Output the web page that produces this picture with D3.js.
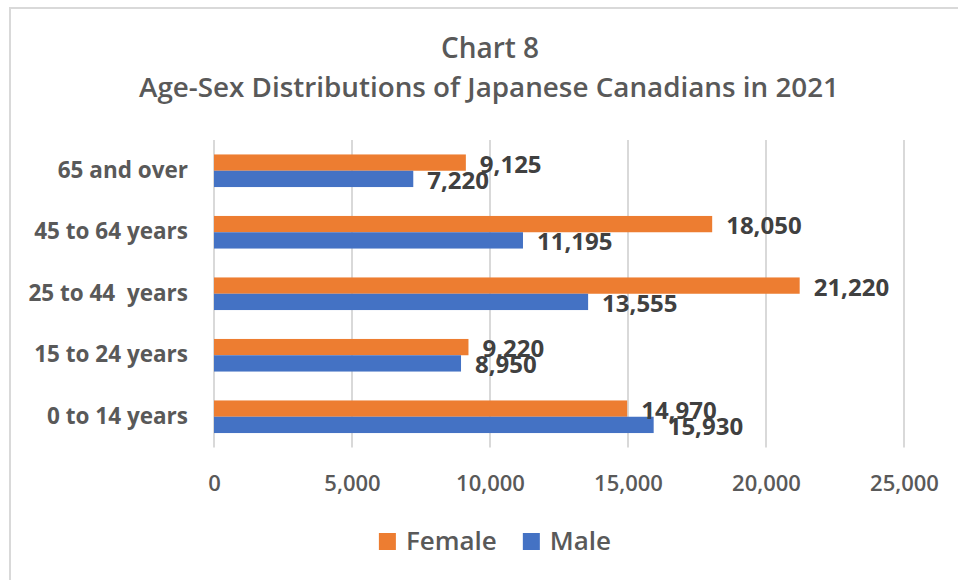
<!DOCTYPE html>
<html>
<head>
<meta charset="utf-8">
<script src="https://cdn.jsdelivr.net/npm/d3@7"></script>
<style>
  body { margin: 0; background: #fff; }
  svg { display: block; font-family: "Open Sans", sans-serif; }
</style>
</head>
<body>
<div id="chart"></div>
<script>
// data
const ageGroups = ["65 and over", "45 to 64 years", "25 to 44  years", "15 to 24 years", "0 to 14 years"];
const series = ["Female", "Male"];
const femaleValues = [9125, 18050, 21220, 9220, 14970];
const maleValues = [7220, 11195, 13555, 8950, 15930];
const xTicks = [0, 5000, 10000, 15000, 20000, 25000];

const width = 958, height = 580;
const plot = { left: 214, right: 904, top: 140, bottom: 447.5 };
const colors = { Female: "#ED7D31", Male: "#4472C4" };

const rows = ageGroups.map((g, i) => ({ group: g, Female: femaleValues[i], Male: maleValues[i] }));

let svg = d3.select("#chart")
  .append("svg")
    .attr("width", width)
    .attr("height", height);

// chart frame
svg.append("rect")
  .attr("x", 10)
  .attr("y", 8)
  .attr("width", 1000)
  .attr("height", 600)
  .attr("fill", "white")
  .attr("stroke", "#d9d9d9")
  .attr("stroke-width", 2);

let x = d3.scaleLinear()
  .domain([0, 25000])
  .range([plot.left, plot.right]);

let y = d3.scaleBand()
  .domain(ageGroups)
  .range([plot.top, plot.bottom])
  .paddingInner(0.47)
  .paddingOuter(0.235);

let ySub = d3.scaleBand()
  .domain(series)
  .range([0, y.bandwidth()]);

// gridlines
svg.append("g")
  .selectAll("line")
  .data(xTicks)
  .enter()
  .append("line")
    .attr("x1", d => x(d))
    .attr("x2", d => x(d))
    .attr("y1", plot.top)
    .attr("y2", plot.bottom)
    .attr("stroke", "#d9d9d9")
    .attr("stroke-width", 2);

// x axis labels
let xAxis = svg.append("g")
  .attr("transform", "translate(0," + 476 + ")")
  .call(d3.axisBottom(x).tickValues(xTicks).tickSize(0).tickPadding(0).tickFormat(d3.format(",")));
xAxis.select(".domain").remove();
xAxis.selectAll("text")
  .attr("dy", null)
  .attr("y", 15)
  .style("font-family", "Open Sans")
  .style("font-size", "22px")
  .style("font-weight", 600)
  .style("fill", "#595959");

// y axis labels
let yAxis = svg.append("g")
  .attr("transform", "translate(" + plot.left + ",0)")
  .call(d3.axisLeft(y).tickSize(0).tickPadding(26));
yAxis.select(".domain").remove();
yAxis.selectAll("text")
  .style("font-family", "Open Sans")
  .style("font-size", "22.5px")
  .style("font-weight", 700)
  .style("fill", "#595959")
  .style("white-space", "pre");

// bars
let groups = svg.append("g")
  .selectAll("g")
  .data(rows)
  .enter()
  .append("g")
    .attr("transform", d => "translate(0," + y(d.group) + ")");

groups.selectAll("rect")
  .data(d => series.map(s => ({ key: s, value: d[s] })))
  .enter()
  .append("rect")
    .attr("x", x(0))
    .attr("y", d => ySub(d.key))
    .attr("width", d => x(d.value) - x(0))
    .attr("height", ySub.bandwidth())
    .attr("fill", d => colors[d.key]);

groups.selectAll("text")
  .data(d => series.map(s => ({ key: s, value: d[s] })))
  .enter()
  .append("text")
    .attr("x", d => x(d.value) + 14)
    .attr("y", d => ySub(d.key) + ySub.bandwidth() / 2 + 10)
    .text(d => d3.format(",")(d.value))
    .style("font-family", "Open Sans")
    .style("font-size", "24px")
    .style("font-weight", 700)
    .style("fill", "#404040");

// title
svg.append("text")
  .attr("x", 490)
  .attr("y", 58)
  .attr("text-anchor", "middle")
  .text("Chart 8")
  .style("font-size", "28px")
  .style("font-weight", 600)
  .style("fill", "#595959");

svg.append("text")
  .attr("x", 489)
  .attr("y", 97)
  .attr("text-anchor", "middle")
  .text("Age-Sex Distributions of Japanese Canadians in 2021")
  .style("font-size", "27.8px")
  .style("font-weight", 600)
  .style("fill", "#595959");

// legend
let legend = svg.append("g");
let items = legend.selectAll("g")
  .data(series)
  .enter()
  .append("g");

items.append("rect")
  .attr("width", 17)
  .attr("height", 17)
  .attr("y", -17)
  .attr("fill", d => colors[d]);

items.append("text")
  .attr("x", 27)
  .attr("y", 0)
  .text(d => d)
  .style("font-size", "26px")
  .style("font-weight", 600)
  .style("fill", "#595959");

let offset = 0;
items.each(function() {
  d3.select(this).attr("transform", "translate(" + offset + ",0)");
  offset += this.getBBox().width + 26;
});
let legendWidth = offset - 26;
legend.attr("transform", "translate(" + (495 - legendWidth / 2) + ",550)");
</script>
</body>
</html>
